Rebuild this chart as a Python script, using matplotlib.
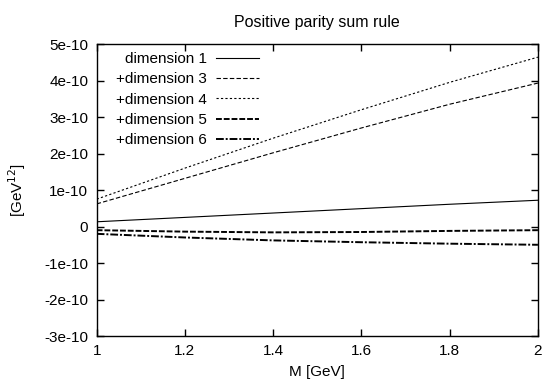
import numpy as np
import matplotlib
matplotlib.use('Agg')
import matplotlib.pyplot as plt
from matplotlib.ticker import FixedLocator, FuncFormatter

plt.rcParams['font.family'] = ['Liberation Sans', 'DejaVu Sans']
plt.rcParams['font.size'] = 11

# M [GeV]
m_vals = [1.0, 1.2, 1.4, 1.6, 1.8, 2.0]

# sum rule values in units of 1e-10 GeV^12
dim1 = [0.13, 0.25, 0.37, 0.49, 0.61, 0.72]
dim3 = [0.62, 1.32, 2.02, 2.70, 3.35, 3.93]
dim4 = [0.75, 1.60, 2.42, 3.20, 3.95, 4.64]
dim5 = [-0.10, -0.14, -0.16, -0.15, -0.12, -0.10]
dim6 = [-0.20, -0.30, -0.38, -0.43, -0.47, -0.50]

labels = ['dimension 1', '+dimension 3', '+dimension 4', '+dimension 5', '+dimension 6']

y_ticks = [5e-10, 4e-10, 3e-10, 2e-10, 1e-10, 0, -1e-10, -2e-10, -3e-10]
x_ticks = [1.0, 1.2, 1.4, 1.6, 1.8, 2.0]


def fmt_y(v, pos):
    # gnuplot style tick labels
    if abs(v) < 1e-20:
        return '0'
    mant = v / 1e-10
    return '%de-10' % round(mant)


def fmt_x(v, pos):
    return ('%g' % v)


fig = plt.figure(figsize=(5.45, 3.81), dpi=100)
ax = fig.add_axes([0.1774, 0.118, 0.8096, 0.7665])

m = np.array(m_vals)
scale = 1e-10
ax.plot(m, np.array(dim1) * scale, color='black', lw=0.8, ls='-', label=labels[0])
ax.plot(m, np.array(dim3) * scale, color='black', lw=0.8, ls=(0, (4, 2)), label=labels[1])
ax.plot(m, np.array(dim4) * scale, color='black', lw=0.8, ls=(0, (2, 2)), label=labels[2])
ax.plot(m, np.array(dim5) * scale, color='black', lw=1.4, ls=(0, (3, 1)), label=labels[3])
ax.plot(m, np.array(dim6) * scale, color='black', lw=1.4, ls=(0, (4, 1, 1, 1)), label=labels[4])

ax.set_xlim(1, 2)
ax.set_ylim(-3e-10, 5e-10)
ax.xaxis.set_major_locator(FixedLocator(x_ticks))
ax.yaxis.set_major_locator(FixedLocator(y_ticks))
ax.xaxis.set_major_formatter(FuncFormatter(fmt_x))
ax.yaxis.set_major_formatter(FuncFormatter(fmt_y))
ax.tick_params(direction='in', top=True, right=True, length=5, width=1, pad=6, labelsize=11)
for s in ax.spines.values():
    s.set_linewidth(1)

ax.set_title('Positive parity sum rule', fontsize=11.5, pad=12)
ax.set_xlabel('M [GeV]', fontsize=11, labelpad=4.5)
ax.set_ylabel('[GeV$^{12}$]', fontsize=11, labelpad=12)

ax.legend(loc='upper right', bbox_to_anchor=(0.381, 0.993), frameon=False, markerfirst=False,
          handlelength=2.8, handletextpad=0.6, labelspacing=0.41, borderaxespad=0, fontsize=11)

fig.savefig('out.png', dpi=100)
